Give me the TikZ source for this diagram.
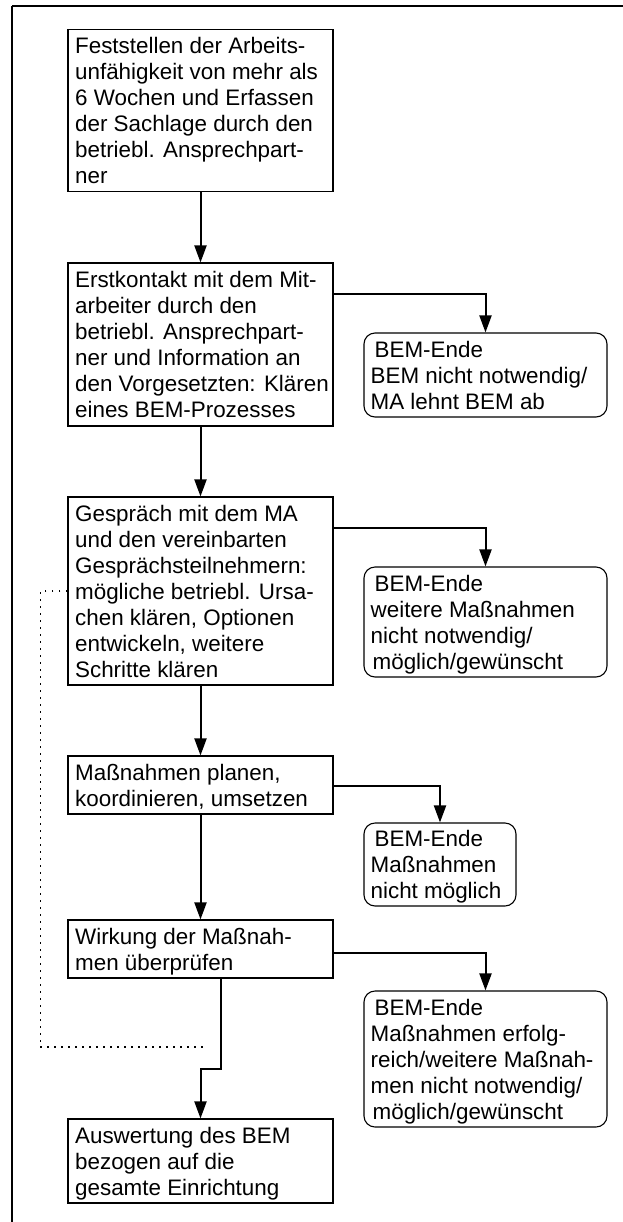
\documentclass[tikz,border=0pt]{standalone}
\usepackage{fontspec}
\setmainfont{Liberation Sans}
\usetikzlibrary{arrows.meta,calc}
\newcommand\myfst{\rule{0pt}{22bp}}
\newcommand\mylst{\rule[-6bp]{0pt}{6bp}}
\begin{document}
\begin{tikzpicture}[x=1bp,y=-1bp,
  box/.style={draw, line width=1.1bp, minimum width=265bp, inner sep=0pt},
  endbox/.style={draw, line width=1.1bp, rounded corners=11bp, inner sep=0pt},
  txt/.style={anchor=west, inner sep=0pt, align=left, font=\fontsize{22.4bp}{26bp}\selectfont},
  arr/.style={line width=2bp, -{Triangle[length=17bp,width=12bp]}},
  dotline/.style={line width=1.6bp, dash pattern=on 1.6bp off 5.4bp},
  frameline/.style={line width=1.2bp}]
\useasboundingbox (0,0) rectangle (623,1222);
% frame
\draw[frameline] (12,6) -- (625,6);
\draw[frameline] (12,6) -- (12,1225);
% main boxes
\node[box, minimum height=162.5bp] (b1) at (200.5,110.5) {};
\node[txt] (t1) at ([xshift=7.5bp]b1.west) {\myfst Feststellen der Arbeits-\\unfähigkeit von mehr als\\6 Wochen und Erfassen\\der Sachlage durch den\\betriebl. Ansprechpart-\\ner\mylst};
\node[box, minimum height=163bp] (b2) at (200.5,344.5) {};
\node[txt] (t2) at ([xshift=7.5bp]b2.west) {\myfst Erstkontakt mit dem Mit-\\arbeiter durch den\\betriebl. Ansprechpart-\\ner und Information an\\den Vorgesetzten: Klären\\eines BEM-Prozesses\mylst};
\node[box, minimum height=188bp] (b3) at (200.5,591) {};
\node[txt] (t3) at ([xshift=7.5bp]b3.west) {\myfst Gespräch mit dem MA\\und den vereinbarten\\Gesprächsteilnehmern:\\mögliche betriebl. Ursa-\\chen klären, Optionen\\entwickeln, weitere\\Schritte klären\mylst};
\node[box, minimum height=58bp] (b4) at (200.5,785) {};
\node[txt] (t4) at ([xshift=7.5bp]b4.west) {\myfst Maßnahmen planen,\\koordinieren, umsetzen\mylst};
\node[box, minimum height=58bp] (b5) at (200.5,949) {};
\node[txt] (t5) at ([xshift=7.5bp]b5.west) {\myfst Wirkung der Maßnah-\\men überprüfen\mylst};
\node[box, minimum height=84bp] (b6) at (200.5,1161) {};
\node[txt] (t6) at ([xshift=7.5bp]b6.west) {\myfst Auswertung des BEM\\bezogen auf die\\gesamte Einrichtung\mylst};
% end boxes
\node[endbox, minimum width=243bp, minimum height=84bp] (e1) at (485.5,375) {};
\node[txt] (u1) at ([xshift=7bp]e1.west) {\myfst\hspace*{4bp}BEM-Ende\\BEM nicht notwendig/\\MA lehnt BEM ab\mylst};
\node[endbox, minimum width=243bp, minimum height=110bp] (e2) at (485.5,622) {};
\node[txt] (u2) at ([xshift=7bp]e2.west) {\myfst\hspace*{4bp}BEM-Ende\\weitere Maßnahmen\\nicht notwendig/\\\hspace*{2bp}möglich/gewünscht\mylst};
\node[endbox, minimum width=152bp, minimum height=83bp] (e3) at (440,864.5) {};
\node[txt] (u3) at ([xshift=7bp]e3.west) {\myfst\hspace*{4bp}BEM-Ende\\Maßnahmen\\nicht möglich\mylst};
\node[endbox, minimum width=243bp, minimum height=136bp] (e4) at (485.5,1059) {};
\node[txt] (u4) at ([xshift=7bp]e4.west) {\myfst\hspace*{4bp}BEM-Ende\\Maßnahmen erfolg-\\reich/weitere Maßnah-\\men nicht notwendig/\\\hspace*{2bp}möglich/gewünscht\mylst};
% main arrows
\draw[arr] (b1.south) -- (b2.north);
\draw[arr] (b2.south) -- (b3.north);
\draw[arr] (b3.south) -- (b4.north);
\draw[arr] (b4.south) -- (b5.north);
\draw[arr] ([xshift=20bp]b5.south) -- ++(0,90) -| (b6.north);
% branch arrows
\draw[arr] ([yshift=-32bp]b2.north east) -| (e1.north);
\draw[arr] ([yshift=-32bp]b3.north east) -| (e2.north);
\draw[arr] ([yshift=-31bp]b4.north east) -| (e3.north);
\draw[arr] ([yshift=-34bp]b5.north east) -| (e4.north);
% dotted feedback line
\coordinate (dotend) at (203,1047);
\draw[dotline] (b3.west) -- ++(-27,0) |- (dotend);
\end{tikzpicture}
\end{document}
